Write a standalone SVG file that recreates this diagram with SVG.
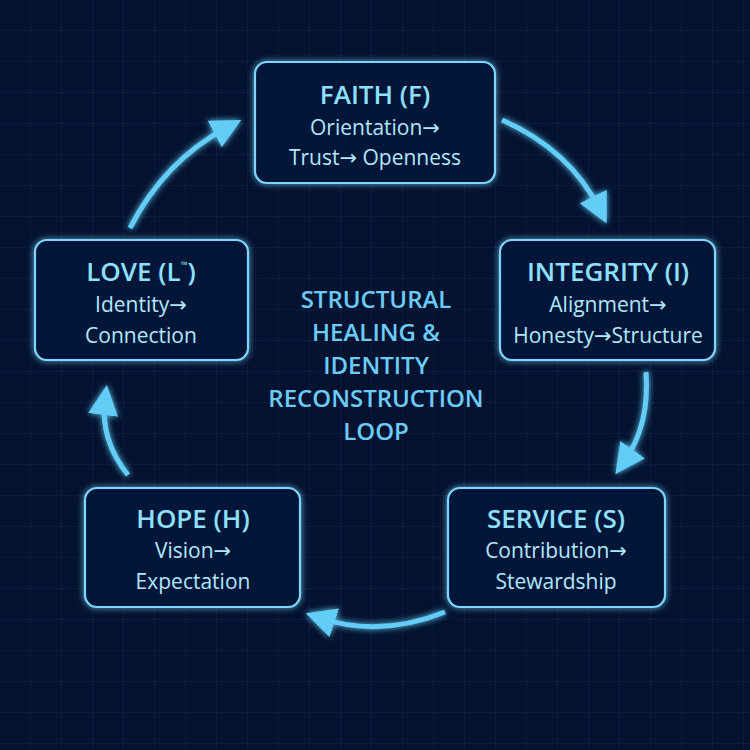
<svg xmlns="http://www.w3.org/2000/svg" width="750" height="750" viewBox="0 0 750 750">
<defs>
<pattern id="grid" width="31" height="31" patternUnits="userSpaceOnUse"><path d="M31 0V31H0" fill="none" stroke="#1a3366" stroke-width="1" opacity="0.5"/></pattern>
<filter id="glow" x="-20%" y="-20%" width="140%" height="140%"><feGaussianBlur stdDeviation="3" result="b"/><feMerge><feMergeNode in="b"/><feMergeNode in="SourceGraphic"/></feMerge></filter>
<filter id="glowa" filterUnits="userSpaceOnUse" x="0" y="0" width="750" height="750"><feGaussianBlur stdDeviation="3" result="b"/><feMerge><feMergeNode in="b"/><feMergeNode in="SourceGraphic"/></feMerge></filter>
<marker id="ah" viewBox="0 0 10 10" refX="5" refY="5" markerWidth="6" markerHeight="6" orient="auto" markerUnits="strokeWidth"><path d="M0 0L10 5L0 10Z" fill="#63cdf7"/></marker>
<style>
.box{fill:#051638;stroke:#7dd6ff;stroke-width:2.2;filter:url(#glow)}
.t{font-family:"Open Sans","DejaVu Sans",sans-serif;font-weight:600;font-size:26px;fill:#8fe0ff;text-anchor:middle}
.s{font-family:"Open Sans","DejaVu Sans",sans-serif;font-size:21px;fill:#b0e8ff;text-anchor:middle}
.c{font-family:"Open Sans","DejaVu Sans",sans-serif;font-weight:600;font-size:24px;fill:#6cccf8;text-anchor:middle}
.a{fill:none;stroke:#63cdf7;stroke-width:5;marker-end:url(#ah)}
</style>
</defs>
<rect width="750" height="750" fill="#03122f"/>
<rect width="750" height="750" fill="url(#grid)"/>
<g id="connectors" filter="url(#glowa)">
<path class="a" d="M130 228 Q165 160 228 127"/>
<path class="a" d="M502 120 Q570 150 600 210"/>
<path class="a" d="M646 372 Q650 425 624 462"/>
<path class="a" d="M445 612 Q380 638 320 618"/>
<path class="a" d="M128 475 Q100 440 105 400"/>
</g>
<g id="faith"><rect class="box" x="255" y="62" width="240" height="121" rx="12"/>
<text class="t" x="375" y="104">FAITH (F)</text><text class="s" x="375" y="135">Orientation→</text><text class="s" x="375" y="165">Trust→ Openness</text></g>
<g id="integrity"><rect class="box" x="500" y="240" width="215" height="120" rx="12"/>
<text class="t" x="608" y="281">INTEGRITY (I)</text><text class="s" x="608" y="312">Alignment→</text><text class="s" x="608" y="343" font-size="20">Honesty→Structure</text></g>
<g id="service"><rect class="box" x="448" y="488" width="217" height="119" rx="12"/>
<text class="t" x="556" y="528">SERVICE (S)</text><text class="s" x="556" y="558">Contribution→</text><text class="s" x="556" y="589">Stewardship</text></g>
<g id="hope"><rect class="box" x="85" y="488" width="215" height="119" rx="12"/>
<text class="t" x="193" y="528">HOPE (H)</text><text class="s" x="193" y="558">Vision→</text><text class="s" x="193" y="589">Expectation</text></g>
<g id="love"><rect class="box" x="35" y="240" width="213" height="120" rx="12"/>
<text class="t" x="141" y="281">LOVE (L<tspan font-size="9" dy="-13">™</tspan><tspan dy="13">)</tspan></text><text class="s" x="141" y="312">Identity→</text><text class="s" x="141" y="343">Connection</text></g>
<g id="center">
<text class="c" x="376" y="308">STRUCTURAL</text><text class="c" x="376" y="341">HEALING &amp;</text><text class="c" x="376" y="374">IDENTITY</text><text class="c" x="376" y="407">RECONSTRUCTION</text><text class="c" x="376" y="440">LOOP</text>
</g>
</svg>
